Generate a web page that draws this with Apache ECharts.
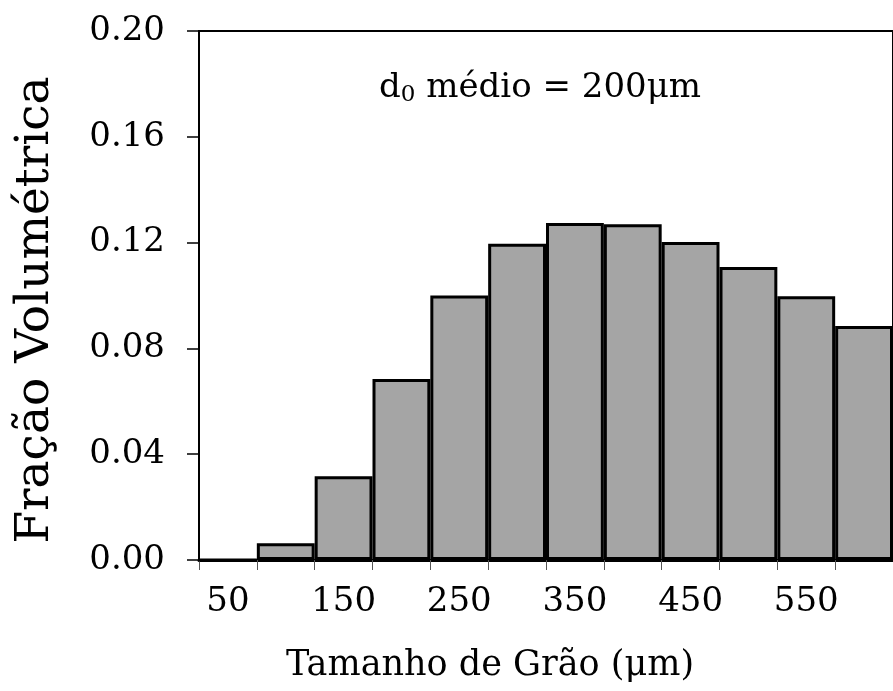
<!DOCTYPE html>
<html>
<head>
<meta charset="utf-8">
<script src="https://cdn.jsdelivr.net/npm/echarts@6/dist/echarts.min.js"></script>
<style>
html,body{margin:0;padding:0;background:#fff;}
#chart{width:893px;height:691px;}
</style>
</head>
<body>
<div id="chart"></div>
<script>
const categories = ['50','100','150','200','250','300','350','400','450','500','550','600'];
const fractions = [0.0, 0.0063, 0.0317, 0.0684, 0.1000, 0.1196, 0.1274, 0.1269, 0.1202, 0.1108, 0.0997, 0.0885];
const yTicks = [0, 0.04, 0.08, 0.12, 0.16, 0.20];
const xTitle = 'Tamanho de Grão (μm)';
const yTitle = 'Fração Volumétrica';

const FONT = 'DejaVu Serif';
const chart = echarts.init(document.getElementById('chart'), null, {renderer:'canvas'});
chart.setOption({
  animation:false,
  backgroundColor:'#fff',
  grid:{left:199, top:31, bottom:131, right:-12, show:true, borderColor:'#000', borderWidth:2, backgroundColor:'transparent'},
  xAxis:{
    type:'category', data:categories, boundaryGap:true,
    axisLine:{lineStyle:{color:'#000', width:3}},
    axisTick:{show:true, interval:0, length:10, lineStyle:{color:'#555', width:1}},
    axisLabel:{interval:1, color:'#000', fontFamily:FONT, fontSize:34, margin:25}
  },
  yAxis:{
    type:'value', min:yTicks[0], max:yTicks[yTicks.length-1], interval:0.04,
    axisLine:{show:true, lineStyle:{color:'#000', width:2}},
    axisTick:{show:true, inside:false, length:12, lineStyle:{color:'#000', width:1.5}},
    splitLine:{show:false},
    axisLabel:{color:'#000', fontFamily:FONT, fontSize:34, margin:34, formatter:v=>v.toFixed(2)}
  },
  series:[{
    type:'bar', data:fractions, barCategoryGap:'0%',
    itemStyle:{color:'#a5a5a5', borderColor:'#000', borderWidth:3}
  }],
  graphic:[
    {
      type:'text', x:540, y:88,
      style:{
        text:'{a|d}{s|0}{a| médio = 200μm}',
        align:'center', verticalAlign:'middle',
        rich:{
          a:{fontFamily:FONT, fontSize:34, fill:'#000', color:'#000'},
          s:{fontFamily:FONT, fontSize:23, fill:'#000', color:'#000', verticalAlign:'bottom', padding:[15,0,0,0]}
        }
      }
    },
    {
      type:'text', x:490, y:666,
      style:{text:xTitle, fontFamily:FONT, fontSize:35, fill:'#000', align:'center', verticalAlign:'middle'}
    },
    {
      type:'text', x:36, y:310, rotation:Math.PI/2,
      style:{text:yTitle, fontFamily:FONT, fontSize:47, fill:'#000', align:'center', verticalAlign:'middle'}
    }
  ]
});
</script>
</body>
</html>
